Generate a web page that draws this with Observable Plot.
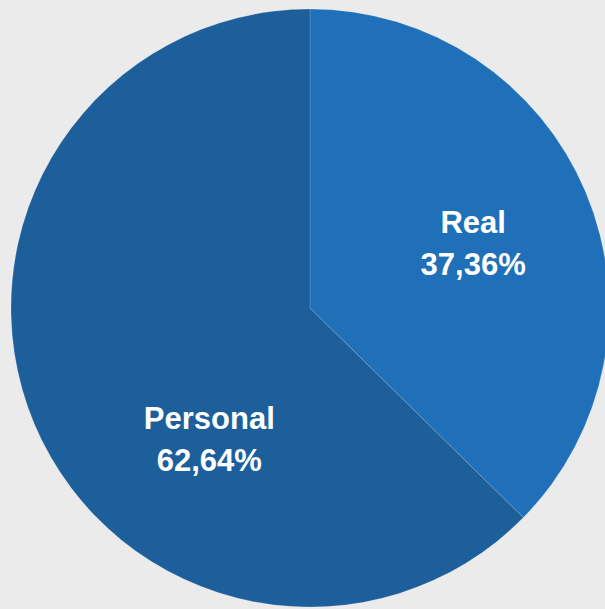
<!DOCTYPE html>
<html>
<head>
<meta charset="utf-8">
<script src="https://cdn.jsdelivr.net/npm/d3@7"></script>
<script src="https://cdn.jsdelivr.net/npm/@observablehq/plot@0.6"></script>
<style>
  html, body { margin: 0; padding: 0; background: #ebebeb; }
  #chart svg { display: block; background: #ebebeb; }
</style>
</head>
<body>
<div id="chart"></div>
<script>
const categories = ["Real", "Personal"];
const shares = [37.36, 62.64];
const colors = ["#1f70b8", "#1d5f9a"];

const data = categories.map((c, i) => ({category: c, value: shares[i], color: colors[i]}));
const arcs = d3.pie().sort(null).value(d => d.value)(data);

// label placement (angle in degrees clockwise from top, radius as fraction of pie radius)
const labelPlacement = {Real: [67.25, 0.59], Personal: [218.4, 0.545]};
const fmt = v => v.toFixed(2).replace(".", ",") + "%";
const labels = arcs.map(a => {
  const [deg, r] = labelPlacement[a.data.category];
  const t = deg * Math.PI / 180;
  return {x: r * Math.sin(t), y: r * Math.cos(t), text: a.data.category + "\n" + fmt(a.data.value)};
});

const pieMark = (index, scales) => {
  const cx = scales.x(0), cy = scales.y(0);
  const R = Math.abs(scales.x(1) - scales.x(0));
  const arc = d3.arc().innerRadius(0).outerRadius(R);
  const g = d3.create("svg:g").attr("transform", `translate(${cx},${cy})`);
  g.selectAll("path").data(arcs).join("path")
    .attr("d", arc)
    .attr("fill", d => d.data.color)
    .attr("stroke", "rgba(255,255,255,0.25)")
    .attr("stroke-width", 0.6);
  return g.node();
};

const chart = Plot.plot({
  width: 605,
  height: 609,
  margin: 0,
  style: {background: "#ebebeb"},
  x: {domain: [-1, 1], range: [11, 609], axis: null},
  y: {domain: [-1, 1], range: [607, 9], axis: null},
  marks: [
    pieMark,
    Plot.text(labels, {
      x: "x", y: "y", text: "text",
      fill: "white",
      fontSize: 31,
      fontWeight: "bold",
      fontFamily: "'Liberation Sans', Arial, Helvetica, sans-serif",
      lineHeight: 1.36
    })
  ]
});
document.getElementById("chart").appendChild(chart);
</script>
</body>
</html>
